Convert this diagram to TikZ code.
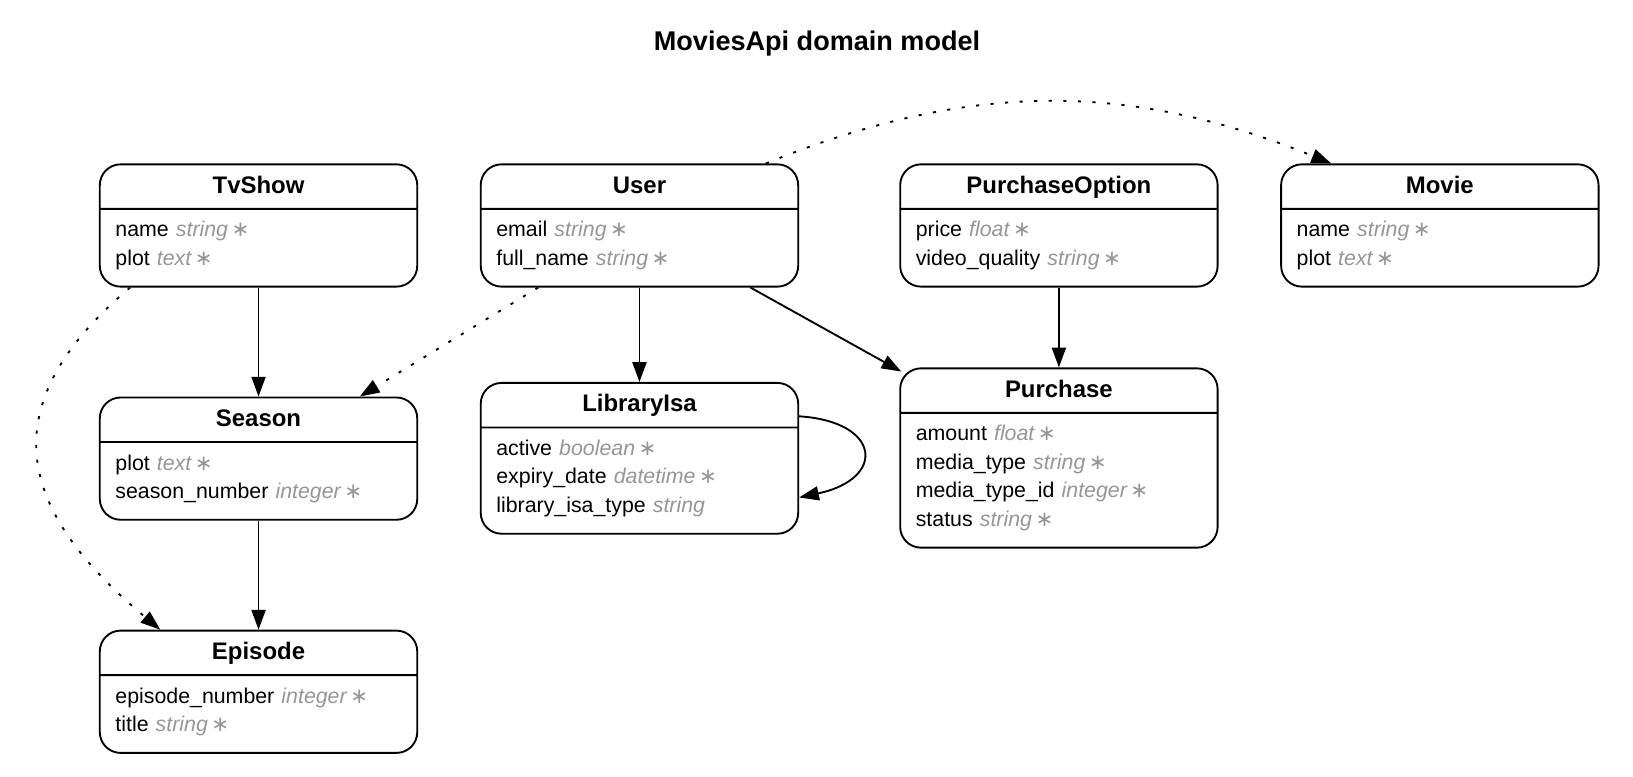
\documentclass[tikz,border=0pt]{standalone}
\usepackage{fontspec}
\setmainfont{Liberation Sans}
\newfontfamily\starfont{DejaVu Sans}
\usepackage{tikz}
\usetikzlibrary{
  arrows.meta,
  calc,
  positioning,
  shapes.multipart,
}
\definecolor{typegray}{RGB}{150, 150, 150}
\newcommand{\headfont}{\fontsize{23}{23}\selectfont\bfseries}
\newcommand{\bodyfont}{\fontsize{20.5}{27.4}\selectfont}
\newcommand{\attr}[2]{\makebox[275pt][l]{#1 {\color{typegray}\itshape #2}}}
\newcommand{\req}{\,{\starfont\upshape ∗}}
\newcommand{\toprow}{\rule{0pt}{26pt}}
\newcommand{\lastrow}{\rule[-19.5pt]{0pt}{19.5pt}}
\newcommand{\header}[1]{\rule[-14pt]{0pt}{41pt}{\headfont #1}}
\tikzstyle{entity} = [
  rectangle split,
  rectangle split parts=2,
  draw,
  line width=1.8pt,
  rounded corners=20pt,
  text width=275pt,
  inner xsep=15pt,
  inner ysep=0pt,
  align=center,
  anchor=north west,
  font=\bodyfont,
]
\tikzstyle{link} = [
  -{Triangle[length=19pt,width=13.5pt]},
  line width=1.8pt,
]
\tikzstyle{optional} = [
  link,
  dash pattern=on 3pt off 11pt,
]

\begin{document}
\begin{tikzpicture}[x=1pt, y=-1pt]
        \useasboundingbox (0,0) rectangle (1569,746);

        \node [anchor=base, font=\fontsize{26}{26}\selectfont\bfseries] (title) at (785,49) {MoviesApi domain model};

        %% top row
        \node [entity] (tvshow) at (95,157) {\header{TvShow}
          \nodepart{two}\attr{\toprow name}{string\req}\\
          \attr{\lastrow plot}{text\req}};
        \node [entity] (user) at (461,157) {\header{User}
          \nodepart{two}\attr{\toprow email}{string\req}\\
          \attr{\lastrow full\_name}{string\req}};
        \node [entity] (purchaseoption) at (864,157) {\header{PurchaseOption}
          \nodepart{two}\attr{\toprow price}{float\req}\\
          \attr{\lastrow video\_quality}{string\req}};
        \node [entity] (movie) at (1230,157) {\header{Movie}
          \nodepart{two}\attr{\toprow name}{string\req}\\
          \attr{\lastrow plot}{text\req}};

        %% second row
        \node [entity] (season) at (95,381) {\header{Season}
          \nodepart{two}\attr{\toprow plot}{text\req}\\
          \attr{\lastrow season\_number}{integer\req}};
        \node [entity] (libraryisa) at (461,367) {\header{LibraryIsa}
          \nodepart{two}\attr{\toprow active}{boolean\req}\\
          \attr{expiry\_date}{datetime\req}\\
          \attr{\lastrow library\_isa\_type}{string}};
        \node [entity] (purchase) at (864,353) {\header{Purchase}
          \nodepart{two}\attr{\toprow amount}{float\req}\\
          \attr{media\_type}{string\req}\\
          \attr{media\_type\_id}{integer\req}\\
          \attr{\lastrow status}{string\req}};

        %% bottom row
        \node [entity] (episode) at (95,605) {\header{Episode}
          \nodepart{two}\attr{\toprow episode\_number}{integer\req}\\
          \attr{\lastrow title}{string\req}};

        %% associations
        \draw [link] (tvshow.south) -- (season.north);
        \draw [link] (season.south) -- (episode.north);
        \draw [link] (user.south) -- (libraryisa.north);
        \draw [link] (user) -- ($(purchase.north west)+(2,4)$);
        \draw [link] (purchaseoption.south) -- (purchase.north);
        \draw [link] ($(libraryisa.north east)+(0,33)$)
          .. controls +(79,5) and +(84,-18) .. ($(libraryisa.north east)+(0,111)$);

        %% optional associations
        \draw [optional] (user) -- (season);
        \draw [optional] ($(user.north)+(121.5,0)$)
          .. controls +(195,-79) and +(-195,-79) .. ($(movie.north west)+(49,0)$);
        \draw [optional] ($(tvshow.south west)+(30,0)$)
          .. controls +(-135,114) and +(-138,-115) .. ($(episode.north west)+(59,0)$);
\end{tikzpicture}
\end{document}
